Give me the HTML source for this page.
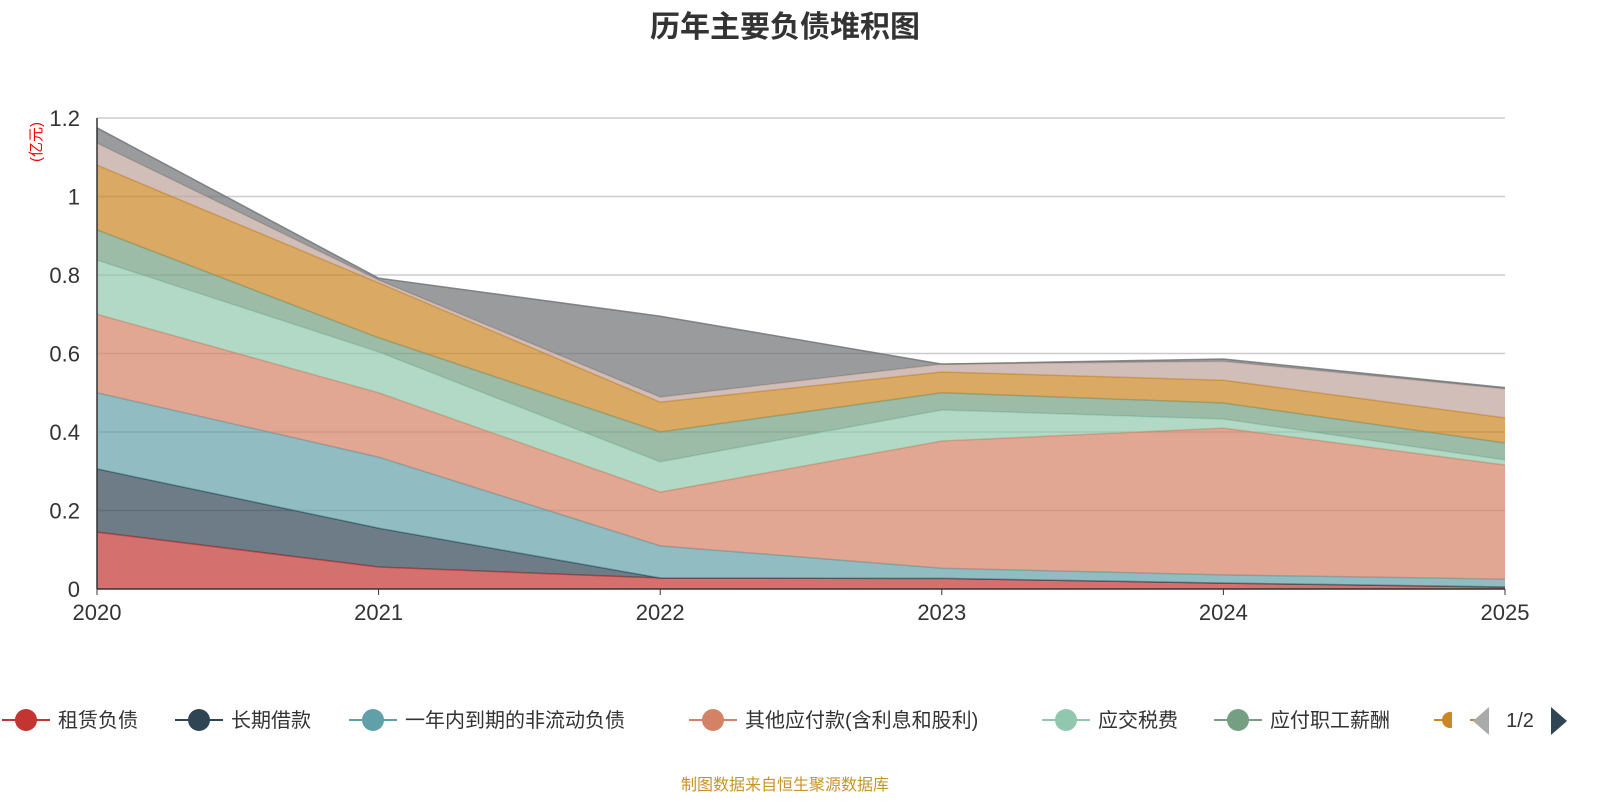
<!DOCTYPE html>
<html><head><meta charset="utf-8"><style>
body{margin:0;background:#fff;font-family:"Liberation Sans","Noto Sans CJK SC",sans-serif;}
svg text{font-family:"Liberation Sans","Noto Sans CJK SC",sans-serif;}
</style></head><body>
<svg id="c" width="1600" height="800">
<text x="785" y="37" text-anchor="middle" font-size="30" font-weight="bold" fill="#333">历年主要负债堆积图</text>
<text transform="translate(41,142) rotate(-90)" text-anchor="middle" font-size="15" fill="#e00">(亿元)</text>
<g id="grid"></g><g id="areas"></g><g id="axes"></g><g id="legend"></g>
<text x="785" y="790" text-anchor="middle" font-size="16" fill="#c89328">制图数据来自恒生聚源数据库</text>
</svg>
<script>
const years=["2020","2021","2022","2023","2024","2025"];
const yTicks=[0,0.2,0.4,0.6,0.8,1,1.2];
const names=["租赁负债","长期借款","一年内到期的非流动负债","其他应付款(含利息和股利)","应交税费","应付职工薪酬","应付账款","合同负债","其他"];
const colors=["#c23531","#2f4554","#61a0a8","#d48265","#91c7ae","#749f83","#ca8622","#bda29a","#6e7074"];
const s1=[0.145,0.056,0.028,0.027,0.015,0.005];
const s2=[0.161,0.099,0,0,0,0];
const s3=[0.194,0.181,0.082,0.026,0.021,0.020];
const s4=[0.200,0.164,0.137,0.324,0.374,0.291];
const s5=[0.138,0.104,0.077,0.079,0.023,0.013];
const s6=[0.077,0.036,0.076,0.044,0.041,0.043];
const s7=[0.165,0.140,0.076,0.053,0.058,0.064];
const s8=[0.056,0.007,0.013,0.020,0.048,0.074];
const s9=[0.039,0.005,0.206,0,0.006,0.003];
const series=[s1,s2,s3,s4,s5,s6,s7,s8,s9];
const NS="http://www.w3.org/2000/svg";
const X=i=>97+i*(1505-97)/(years.length-1);
const Y=v=>589-v*(589-118)/1.2;
function mk(t,a,p){const e=document.createElementNS(NS,t);for(const k in a)e.setAttribute(k,a[k]);(p||document.getElementById('c')).appendChild(e);return e;}
const grid=document.getElementById('grid'),areas=document.getElementById('areas'),axes=document.getElementById('axes'),leg=document.getElementById('legend');
yTicks.forEach(t=>{
 if(t>0){const l=mk('line',{x1:97,x2:1505,y1:Y(t),y2:Y(t),stroke:'#ccc','stroke-width':1.5},grid);
 
 }
 const tx=mk('text',{x:80,y:Y(t)+8,'text-anchor':'end','font-size':22,fill:'#333'},axes);tx.textContent=String(t);
 
 
});
let base=years.map(()=>0);
series.forEach((s,k)=>{
 const top=base.map((b,i)=>b+s[i]);
 let d='M'+top.map((v,i)=>X(i)+','+Y(v)).join('L');
 for(let i=years.length-1;i>=0;i--)d+='L'+X(i)+','+Y(base[i]);
 const a=mk('path',{d:d+'Z',fill:colors[k],'fill-opacity':0.7,stroke:'none'},areas);
 
 
 const l=mk('polyline',{points:top.map((v,i)=>X(i)+','+Y(v)).join(' '),fill:'none',stroke:colors[k],'stroke-width':1.5,'stroke-opacity':0.8},areas);
 
 
 base=top;
});
mk('line',{x1:97,x2:97,y1:118,y2:589,stroke:'#333','stroke-width':1.5},axes);
mk('line',{x1:97,x2:1505,y1:589,y2:589,stroke:'#333','stroke-width':1.5},axes);
years.forEach((y,i)=>{
 mk('line',{x1:X(i),x2:X(i),y1:589,y2:595,stroke:'#333'},axes);
 const t=mk('text',{x:X(i),y:620,'text-anchor':'middle','font-size':22,fill:'#333'},axes);t.textContent=y;
 
 
});
const lx=[0,173,347,687,1040,1212,1432];
for(let k=0;k<7;k++){
 const g=mk('g',{},leg);
 
 
 const x=lx[k];
 mk('line',{x1:x+2,x2:x+50,y1:720,y2:720,stroke:colors[k],'stroke-width':2},g);
 if(k<6){mk('circle',{cx:x+26,cy:720,r:11,fill:colors[k]},g);
 const t=mk('text',{x:x+58,y:727,'font-size':20,fill:'#333'},g);t.textContent=names[k];}
 else mk('circle',{cx:x+18,cy:720,r:8,fill:colors[k]},g);
}
mk('rect',{x:1452,y:700,width:18,height:40,fill:'#fff'},leg);
const pl=mk('polygon',{points:'1489,707 1489,735 1473,721',fill:'#aaa'},leg);


const pt=mk('text',{x:1520,y:727,'text-anchor':'middle','font-size':20,fill:'#333'},leg);pt.textContent='1/2';


const pn=mk('polygon',{points:'1551,707 1551,735 1567,721',fill:'#2f4554'},leg);


</script>
</body></html>
